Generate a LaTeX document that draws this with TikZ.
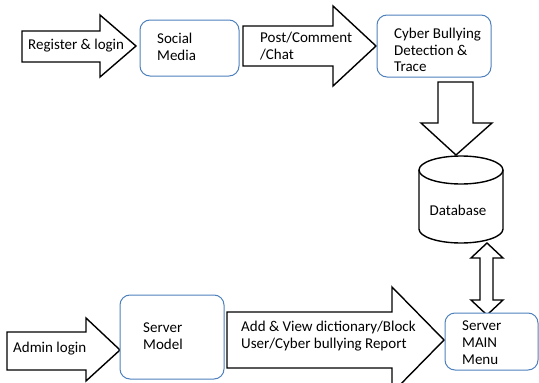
\documentclass[tikz,border=0pt]{standalone}
\usepackage{fontspec}
\setmainfont{Carlito}
\definecolor{boxblue}{RGB}{79,129,189}
\tikzset{
  x=1pt, y=-1pt,
  blockarrow/.style={draw=black, line width=1.4pt, fill=white, line join=miter},
  rbox/.style={draw=boxblue, line width=1pt, rounded corners=10pt, fill=white},
  lbl/.style={font=\fontsize{15}{16.6}\selectfont, align=left, anchor=north west, inner sep=0pt},
}
\begin{document}
\begin{tikzpicture}
\useasboundingbox (0,0) rectangle (539,383);
% Register & login arrow
\draw[blockarrow] (22,31) -- (100,31) -- (100,15) -- (136,46) -- (100,77) -- (100,62) -- (22,62) -- cycle;
\node[lbl, anchor=west] (reg) at (28,46) {Register \& login};
% Social Media
\draw[rbox] (140,20) rectangle (239,76);
\node[lbl] (sm) at (157,33) {Social\\Media};
% Post arrow
\draw[blockarrow] (243,26) -- (333,26) -- (333,6) -- (376,46) -- (333,86) -- (333,66) -- (243,66) -- cycle;
\node[lbl] (post) at (260,32) {Post/Comment\\/Chat};
% Cyber bullying box
\draw[rbox] (377,15) rectangle (491,77);
\node[lbl] (cb) at (394,28) {Cyber Bullying\\Detection \&\\Trace};
% Down arrow
\draw[blockarrow] (438,82) -- (473,82) -- (473,123) -- (492,123) -- (456,155) -- (421,123) -- (438,123) -- cycle;
% Database cylinder
\draw[line width=1.4pt, fill=white] (419,170) -- (419,229) arc[start angle=180, end angle=360, x radius=42, y radius=-14] -- (503,170);
\draw[line width=1.4pt, fill=white] (461,170) ellipse[x radius=42, y radius=14];
\node[font=\fontsize{15}{16}\selectfont, inner sep=0pt] (db) at (458,210) {Database};
% Double arrow
\draw[blockarrow] (487,243) -- (503,258) -- (493,258) -- (493,300) -- (503,300) -- (487,315) -- (471,300) -- (480,300) -- (480,258) -- (471,258) -- cycle;
% Server MAIN Menu
\draw[rbox] (445,313) rectangle (538,370);
\node[lbl] (smm) at (462,321) {Server\\MAIN\\Menu};
% Admin login arrow
\draw[blockarrow] (7,332) -- (86,332) -- (86,318) -- (120,350) -- (86,381) -- (86,370) -- (7,370) -- cycle;
\node[lbl, anchor=west] (adm) at (13,349) {Admin login};
% Server Model
\draw[rbox] (120,295) rectangle (224,379);
\node[lbl] (sv) at (143,323) {Server\\Model};
% Big arrow
\draw[blockarrow] (227,312) -- (392,312) -- (392,287) -- (444,340) -- (392,393) -- (392,368) -- (227,368) -- cycle;
\node[lbl] (add) at (241,321) {Add \& View dictionary/Block\\User/Cyber bullying Report};
\end{tikzpicture}
\end{document}
